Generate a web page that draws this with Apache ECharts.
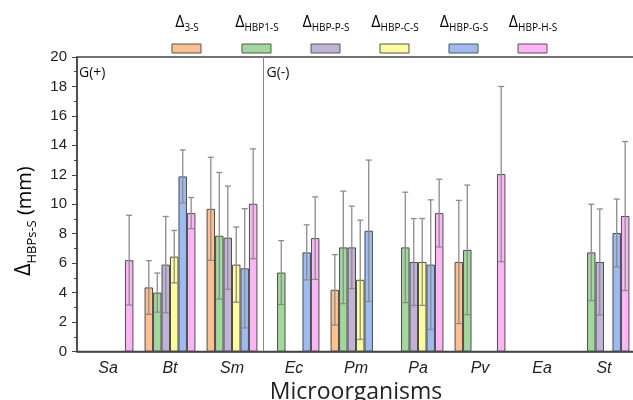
<!DOCTYPE html>
<html>
<head>
<meta charset="utf-8">
<script src="https://cdn.jsdelivr.net/npm/echarts@6/dist/echarts.min.js"></script>
<style>
  html, body { margin: 0; padding: 0; background: #fff; }
  #chart_container { width: 633px; height: 400px; }
</style>
</head>
<body>
<div id="chart_container"></div>
<script>
"use strict";

// categories (x axis)
const microbes = ['Sa', 'Bt', 'Sm', 'Ec', 'Pm', 'Pa', 'Pv', 'Ea', 'St'];

// series keys + subscripts for the legend
const seriesSubs = ['3-S', 'HBP1-S', 'HBP-P-S', 'HBP-C-S', 'HBP-G-S', 'HBP-H-S'];
const seriesColors = ['#fdc08e', '#a0d99b', '#c3b2d7', '#fdfd9e', '#9dbbf0', '#fdb5f6'];

// means (null = no bar)
const val3S   = [null, 4.35, 9.69, null, 4.19, null, 6.08, null, null];
const valHBP1 = [null, 4.00, 7.86, 5.36, 7.07, 7.07, 6.90, null, 6.73];
const valHBPP = [null, 5.90, 7.73, null, 7.07, 6.08, null, null, 6.08];
const valHBPC = [null, 6.44, 5.90, null, 4.87, 6.08, null, null, null];
const valHBPG = [null, 11.89, 5.65, 6.73, 8.20, 5.90, null, null, 8.05];
const valHBPH = [6.20, 9.40, 10.03, 7.70, null, 9.40, 12.05, null, 9.20];

// +/- error
const err3S   = [null, 1.82, 3.50, null, 2.39, null, 4.18, null, null];
const errHBP1 = [null, 1.33, 4.30, 2.17, 3.82, 3.75, 4.40, null, 3.27];
const errHBPP = [null, 3.27, 3.50, null, 2.80, 2.95, null, null, 3.60];
const errHBPC = [null, 1.78, 2.55, null, 4.05, 2.95, null, null, null];
const errHBPG = [null, 1.80, 4.05, 1.87, 4.80, 4.40, null, null, 2.30];
const errHBPH = [3.05, 1.06, 3.73, 2.80, null, 2.30, 5.95, null, 5.06];

const yTicks = [0, 2, 4, 6, 8, 10, 12, 14, 16, 18, 20];

const allVals = [val3S, valHBP1, valHBPP, valHBPC, valHBPG, valHBPH];
const allErrs = [err3S, errHBP1, errHBPP, errHBPC, errHBPG, errHBPH];

const catGap = 0.18;
const nSer = allVals.length;

let myChart;

let errorSeries = (k) => {
    let data = [];
    allVals[k].forEach((v, i) => {
        if (v !== null) data.push([i, v, allErrs[k][i]]);
    });
    return {
        type: 'custom',
        z: 5,
        silent: true,
        encode: { x: 0, y: 1 },
        data: data,
        renderItem: (params, api) => {
            let i = api.value(0), v = api.value(1), e = api.value(2);
            let c = api.coord([i, v]);
            let band = api.size([1, 0])[0];
            let used = band * (1 - catGap);
            let bw = used / nSer;
            let x = c[0] - used / 2 + bw * (k + 0.5);
            let yt = api.coord([i, v + e])[1];
            let yb = api.coord([i, v - e])[1];
            let st = { stroke: '#8c8c8c', lineWidth: 1.3 };
            return {
                type: 'group',
                children: [
                    { type: 'line', shape: { x1: x, y1: yt, x2: x, y2: yb }, style: st },
                    { type: 'line', shape: { x1: x - 3, y1: yt, x2: x + 3, y2: yt }, style: st },
                    { type: 'line', shape: { x1: x - 3, y1: yb, x2: x + 3, y2: yb }, style: st }
                ]
            };
        }
    };
};

let barSeries = allVals.map((vals, k) => ({
    name: seriesSubs[k],
    type: 'bar',
    data: vals,
    barGap: '0%',
    barCategoryGap: (catGap * 100) + '%',
    itemStyle: { color: seriesColors[k], borderColor: '#4d4d4d', borderWidth: 1 }
}));

let optEchart = {
    animation: false,
    grid: {
        left: 77, right: -2, top: 57, bottom: 48.5,
        outerBoundsMode: 'none',
        show: true, borderColor: '#444', borderWidth: 1.5
    },
    xAxis: [{
        type: 'category',
        data: microbes,
        axisLine: { lineStyle: { color: '#444', width: 1.5 } },
        axisTick: { alignWithLabel: true, length: 5, lineStyle: { color: '#444' } },
        axisLabel: { fontFamily: 'Liberation Sans', fontStyle: 'italic', fontSize: 16, color: '#222', margin: 9 },
        name: 'Microorganisms',
        nameLocation: 'middle',
        nameGap: 26,
        nameTextStyle: { fontFamily: 'Open Sans', fontSize: 23, color: '#222' }
    }, {
        type: 'category',
        data: microbes,
        position: 'bottom',
        axisLine: { show: false },
        axisTick: { length: 3, lineStyle: { color: '#444' } },
        axisLabel: { show: false }
    }],
    yAxis: {
        type: 'value',
        min: yTicks[0],
        max: yTicks[yTicks.length - 1],
        interval: 2,
        axisLine: { show: true, lineStyle: { color: '#444', width: 1.5 } },
        axisTick: { show: true, length: 5, lineStyle: { color: '#444' } },
        minorTick: { show: true, splitNumber: 2, length: 3, lineStyle: { color: '#444' } },
        splitLine: { show: false },
        axisLabel: { fontFamily: 'Liberation Sans', fontSize: 15, color: '#222', margin: 10 }
    },
    series: barSeries.concat(allVals.map((v, k) => errorSeries(k)))
};

let legendGraphic = () => {
    let out = [];
    let boxX = [172, 242, 311, 380, 449, 518];
    seriesSubs.forEach((s, k) => {
        out.push({
            type: 'rect',
            shape: { x: boxX[k], y: 44, width: 29, height: 9 },
            style: { fill: seriesColors[k], stroke: '#555', lineWidth: 1 }
        });
        out.push({
            type: 'text',
            x: boxX[k] + 15,
            y: 30,
            style: {
                text: '{d|Δ}{s|' + s + '}',
                align: 'center',
                verticalAlign: 'bottom',
                rich: {
                    d: { fontFamily: 'Open Sans', fontSize: 16, color: '#111', verticalAlign: 'bottom', lineHeight: 19 },
                    s: { fontFamily: 'Open Sans', fontSize: 10, color: '#111', verticalAlign: 'bottom', lineHeight: 14, padding: [0, 0, -3, 0] }
                }
            }
        });
    });
    return out;
};

let pageLoaded = () => {
    let chartDom = document.getElementById('chart_container');
    myChart = echarts.init(chartDom);
    optEchart && myChart.setOption(optEchart);

    // G(+)/G(-) split sits on the boundary between Sm and Ec
    let pSm = myChart.convertToPixel({ xAxisIndex: 0 }, 'Sm');
    let pEc = myChart.convertToPixel({ xAxisIndex: 0 }, 'Ec');
    let splitX = Math.round((pSm + pEc) / 2) + 0.5;
    let yTop = myChart.convertToPixel({ yAxisIndex: 0 }, 20);
    let yBot = myChart.convertToPixel({ yAxisIndex: 0 }, 0);

    let g = legendGraphic();
    g.push({
        type: 'line',
        shape: { x1: splitX, y1: yTop, x2: splitX, y2: yBot },
        style: { stroke: '#888', lineWidth: 1 }
    });
    g.push({
        type: 'text', x: 79, y: yTop + 16,
        style: { text: 'G(+)', fontFamily: 'Open Sans', fontSize: 14, fill: '#111', verticalAlign: 'middle' }
    });
    g.push({
        type: 'text', x: splitX + 3, y: yTop + 16,
        style: { text: 'G(-)', fontFamily: 'Open Sans', fontSize: 14, fill: '#111', verticalAlign: 'middle' }
    });
    g.push({
        type: 'text', x: 22, y: 221, rotation: Math.PI / 2,
        style: {
            text: '{d|Δ}{s|HBPs-S}{n| (mm)}',
            align: 'center',
            verticalAlign: 'middle',
            rich: {
                d: { fontFamily: 'Open Sans', fontSize: 21, color: '#111', verticalAlign: 'bottom', lineHeight: 26 },
                s: { fontFamily: 'Open Sans', fontSize: 13, color: '#111', verticalAlign: 'bottom', lineHeight: 18, padding: [0, 0, -4, 0] },
                n: { fontFamily: 'Open Sans', fontSize: 20, color: '#111', verticalAlign: 'bottom', lineHeight: 26 }
            }
        }
    });
    myChart.setOption({ graphic: g });

    console.log(`pageLoaded() complete`);
};

window.addEventListener('load', pageLoaded, false);
</script>
</body>
</html>
